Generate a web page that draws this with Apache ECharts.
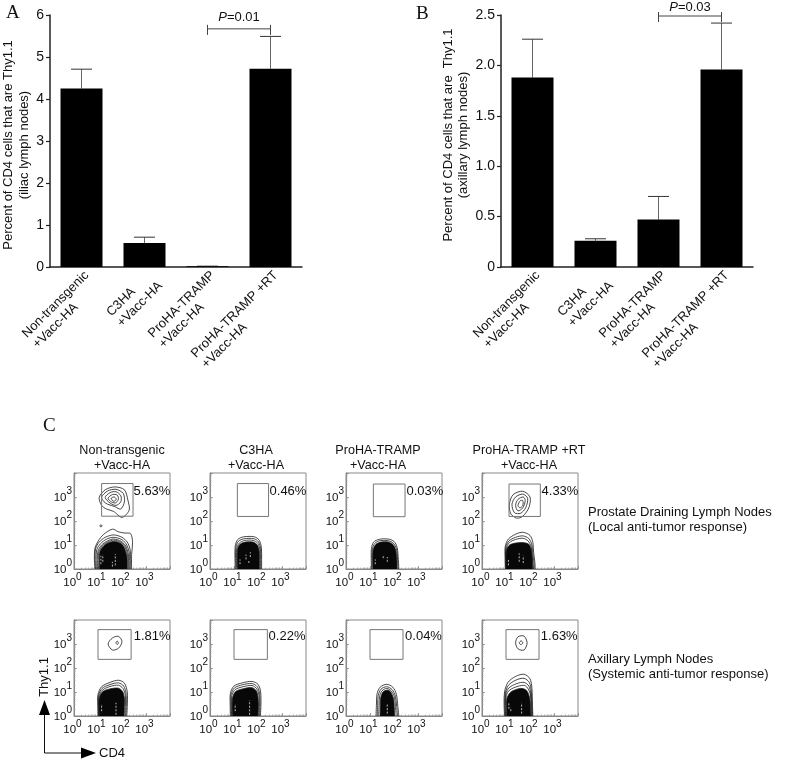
<!DOCTYPE html>
<html><head><meta charset="utf-8">
<style>html,body{margin:0;padding:0;background:#fff}#c{width:800px;height:771px}</style>
<script src="https://cdn.jsdelivr.net/npm/echarts@6/dist/echarts.min.js"></script>
</head><body><div id="c"></div>
<script>
// ---------- Panels A and B ----------
const categories = ['Non-transgenic', 'C3HA', 'ProHA-TRAMP', 'ProHA-TRAMP +RT'];
const secondLine = '+Vacc-HA';
const iliacValues = [4.25, 0.57, 0.02, 4.72];
const iliacUpper = [4.71, 0.71, 0.02, 5.49];
const axillaryValues = [1.88, 0.26, 0.47, 1.96];
const axillaryUpper = [2.26, 0.28, 0.70, 2.42];
const iliacBracket = [2, 3, 5.67, 5.95, '0.01'];
const axillaryBracket = [2, 3, 2.49, 2.58, '0.03'];

// ---------- Panel C: flow cytometry, coordinates are log10(CD4), log10(Thy1.1) ----------
const percents = ['5.63%', '0.46%', '0.03%', '4.33%', '1.81%', '0.22%', '0.04%', '1.63%'];
const percentAt = [[2.46,3.24],[2.46,3.24],[2.5,3.24],[2.46,3.24],[2.47,3.33],[2.42,3.33],[2.44,3.33],[2.43,3.33]];
const gates = [[1.15,2.46,2.2,3.56],[1.14,2.44,2.19,3.56],[1.14,2.46,2.18,3.54],[1.125,2.43,2.19,3.54],
  [1.0,2.38,2.36,3.6],[1.0,2.39,2.36,3.6],[1.0,2.375,2.36,3.6],[1.0,2.375,2.36,3.6]];

const contoursP1 = [
  [.87,0,.85,.4,.87,.85,1,1.15,1.22,1.43,1.6,1.66,1.85,1.55,2.1,1.5,2.36,1.47,2.44,1.1,2.4,.6,2.4,0],
  [.9,0,.88,.4,.9,.85,1.05,1.12,1.3,1.32,1.65,1.42,2,1.32,2.22,1.12,2.34,.8,2.36,.4,2.36,0],
  [.94,0,.92,.4,.95,.8,1.1,1.05,1.35,1.24,1.65,1.32,2,1.22,2.2,1,2.3,.7,2.32,.35,2.32,0],
  [.98,0,.97,.4,1,.75,1.15,1,1.4,1.17,1.65,1.25,1.97,1.15,2.16,.95,2.26,.65,2.28,.3,2.28,0],
  [1.02,0,1.01,.4,1.04,.72,1.18,.97,1.42,1.13,1.66,1.2,1.96,1.11,2.13,.92,2.23,.6,2.25,.28,2.25,0],
  [1.05,2.98,1.3,3.3,1.7,3.42,2.1,3.3,2.25,2.85,2.3,2.45,2,2.15,1.65,2.4,1.35,2.5,1.15,2.65],
  [1.15,3,1.4,3.25,1.75,3.32,2.05,3.15,2.1,2.8,1.95,2.5,1.7,2.6,1.4,2.7,1.25,2.8],
  [1.3,2.98,1.5,3.18,1.75,3.22,1.95,3.05,1.95,2.8,1.75,2.65,1.5,2.75],
  [1.42,2.95,1.6,3.1,1.8,3.08,1.85,2.9,1.72,2.75,1.52,2.82],
  [1.55,2.95,1.68,3,1.76,2.9,1.65,2.82],
  [1.08,1.8,1.12,1.85,1.17,1.8,1.12,1.75]
];
const coreP1 = [1.06,0,1.05,.4,1.08,.72,1.22,.95,1.45,1.1,1.68,1.15,1.95,1.07,2.1,.88,2.2,.55,2.22,.25,2.22,0];
const contoursP2 = [
  [1.05,0,1.04,.5,1.05,.95,1.15,1.22,1.4,1.34,1.85,1.34,2.05,1.2,2.14,.9,2.15,.4,2.15,0],
  [1.08,0,1.07,.5,1.08,.9,1.18,1.15,1.42,1.26,1.83,1.26,2.02,1.13,2.11,.85,2.12,.4,2.12,0],
  [1.11,0,1.1,.5,1.12,.87,1.22,1.08,1.45,1.19,1.8,1.19,1.99,1.07,2.08,.8,2.09,.4,2.09,0]
];
const coreP2 = [1.14,0,1.13,.5,1.15,.85,1.25,1.03,1.47,1.12,1.8,1.12,1.97,1,2.05,.75,2.06,.4,2.06,0];
const contoursP3 = [
  [1.06,0,1.05,.5,1.06,.85,1.15,1.12,1.4,1.24,1.75,1.25,2,1.15,2.13,.9,2.18,.4,2.2,0],
  [1.09,0,1.08,.5,1.1,.82,1.2,1.07,1.42,1.18,1.75,1.18,1.97,1.08,2.1,.85,2.15,.4,2.17,0]
];
const coreP3 = [1.12,0,1.11,.5,1.13,.8,1.24,1.02,1.45,1.12,1.75,1.13,1.95,1.03,2.07,.8,2.12,.4,2.13,0];
const contoursP4 = [
  [.97,0,.96,.5,.97,.95,1.1,1.25,1.4,1.45,1.7,1.53,2,1.4,2.12,1.1,2.15,.7,2.2,.3,2.22,0],
  [.99,0,.98,.5,.99,.9,1.12,1.17,1.4,1.32,1.7,1.38,1.95,1.27,2.08,1,2.12,.6,2.17,.25,2.18,0],
  [1,0,.99,.5,1.01,.85,1.14,1.1,1.4,1.23,1.7,1.28,1.92,1.17,2.05,.92,2.09,.5,2.13,.2,2.15,0],
  [1.14,2.7,1.3,3.1,1.7,3.24,2,3,1.95,2.55,1.7,2.2,1.45,2.12,1.2,2.3],
  [1.25,2.7,1.4,3,1.7,3.12,1.9,2.95,1.82,2.55,1.6,2.32,1.35,2.35],
  [1.4,2.65,1.5,2.9,1.72,3,1.8,2.85,1.7,2.55,1.5,2.42],
  [1.5,2.65,1.6,2.85,1.7,2.85,1.7,2.65,1.58,2.55]
];
const coreP4 = [1,0,1,.5,1.02,.8,1.15,1,1.4,1.08,1.7,1.1,1.95,1.03,2.05,.8,2.1,.4,2.12,0];
const contoursP5 = [
  [1,0,.99,.5,1,.9,1.15,1.22,1.5,1.4,1.85,1.49,2.1,1.37,2.22,1,2.22,.4,2.2,0],
  [1.02,0,1.01,.5,1.02,.85,1.17,1.15,1.5,1.31,1.85,1.38,2.07,1.25,2.17,.92,2.18,.4,2.16,0],
  [1.03,0,1.02,.5,1.04,.82,1.19,1.08,1.5,1.23,1.85,1.28,2.04,1.15,2.14,.85,2.14,.4,2.13,0],
  [1.42,3,1.6,3.25,1.85,3.32,2,3.1,1.85,2.82,1.6,2.75],
  [1.75,3.05,1.8,3.12,1.85,3.05,1.8,2.98]
];
const coreP5 = [1.05,0,1.04,.5,1.06,.78,1.2,1.02,1.5,1.13,1.85,1.16,2.02,1.03,2.1,.75,2.1,.4,2.09,0];
const contoursP6 = [
  [.85,0,.84,.5,.85,.95,1,1.25,1.35,1.38,1.75,1.44,2,1.32,2.11,1,2.12,.4,2.1,0],
  [.88,0,.87,.5,.88,.9,1.02,1.17,1.35,1.3,1.75,1.35,1.97,1.22,2.07,.92,2.08,.4,2.07,0],
  [.9,0,.89,.5,.91,.85,1.05,1.1,1.38,1.22,1.75,1.27,1.95,1.13,2.04,.85,2.05,.4,2.04,0]
];
const coreP6 = [.93,0,.92,.5,.95,.8,1.08,1.03,1.4,1.14,1.75,1.18,1.93,1.05,2,.78,2.02,.4,2,0];
const contoursP7 = [
  [1.25,0,1.27,.5,1.29,.9,1.42,1.2,1.7,1.32,1.95,1.2,2.1,.9,2.16,.4,2.2,0],
  [1.3,0,1.32,.5,1.34,.85,1.46,1.12,1.7,1.22,1.92,1.1,2.06,.82,2.11,.4,2.15,0],
  [1.36,0,1.38,.5,1.4,.82,1.5,1.05,1.7,1.15,1.88,1.05,2.02,.78,2.06,.4,2.09,0]
];
const coreP7 = [1.42,0,1.43,.5,1.45,.78,1.54,1,1.72,1.08,1.86,1,1.98,.72,2.01,.4,2.03,0];
const contoursP8 = [
  [.94,0,.92,.5,.94,1,1.08,1.4,1.4,1.65,1.75,1.74,2,1.55,2.08,1.15,2.1,.5,2.12,0],
  [.96,0,.95,.5,.97,.95,1.1,1.28,1.42,1.5,1.75,1.57,1.97,1.4,2.05,1.05,2.08,.5,2.1,0],
  [.98,0,.97,.5,.99,.9,1.12,1.17,1.45,1.35,1.75,1.4,1.95,1.25,2.03,.95,2.06,.5,2.08,0],
  [1,0,.99,.5,1.01,.85,1.15,1.08,1.5,1.24,1.78,1.27,1.93,1.12,2.02,.87,2.04,.5,2.06,0],
  [1.4,3.05,1.5,3.3,1.75,3.33,1.88,3.05,1.75,2.75,1.5,2.8],
  [1.55,3.05,1.63,3.13,1.7,3.05,1.63,2.97]
];
const coreP8 = [1.03,0,1.02,.5,1.04,.75,1.2,1,1.6,1.15,1.85,1.07,1.98,.78,2.02,.4,2.04,0];
const allContours = [contoursP1,contoursP2,contoursP3,contoursP4,contoursP5,contoursP6,contoursP7,contoursP8];
const allCores = [coreP1,coreP2,coreP3,coreP4,coreP5,coreP6,coreP7,coreP8];
const speckles = [
  [[1.72,.15,1.72,.62],[1.6,.1,1.6,.3],[1.12,.2,1.12,.55],[1.2,.3,1.2,.6]],
  [[1.5,.4,1.5,.6],[1.68,.5,1.68,.7],[1.62,.25,1.62,.38],[1.25,.2,1.25,.4]],
  [[1.55,.45,1.55,.6],[1.72,.3,1.72,.5],[1.22,.2,1.22,.4]],
  [[1.55,.3,1.55,.65],[1.72,.25,1.72,.55],[1.1,.15,1.1,.4]],
  [[1.75,.05,1.75,.55],[1.15,.2,1.15,.5]],
  [[1.65,.05,1.65,.65],[1.05,.2,1.05,.5]],
  [[1.72,.1,1.72,.5]],
  [[1.65,.1,1.65,.55],[1.2,.2,1.2,.35],[1.12,.3,1.12,.55]]
];
const panelTitles = categories;

// ---------- Layout ----------
const flowLefts = [74, 210, 346, 482];
const flowTops = [473, 620];
const flowSize = 96;
const titleCentres = [122, 256, 378, 529];

const serifFont = '"Liberation Serif"';
const sansFont = '"Liberation Sans"';

function catLabel(name) { return '{l|' + name + '}\n{l|' + secondLine + '}'; }

function barX(gridIndex) {
  return { type:'category', gridIndex, data:categories,
    axisLine:{show:true,onZero:false,lineStyle:{color:'#222',width:1.5}},
    axisTick:{show:false},
    axisLabel:{interval:0,rotate:45,margin:1,align:'right',verticalAlign:'top',hideOverlap:false,formatter:catLabel,
      rich:{l:{align:'left',fontFamily:sansFont,fontSize:13,color:'#111',lineHeight:15}}}};
}
function barY(gridIndex,max,interval,name,fmt,gap,pad) {
  return { type:'value', gridIndex, min:0, max, interval, splitLine:{show:false},
    name, nameLocation:'middle', nameGap:gap, nameRotate:90,
    nameTextStyle:{fontFamily:sansFont,fontSize:13,color:'#111',lineHeight:15.5,padding:pad},
    axisLine:{show:true,lineStyle:{color:'#222',width:1.5}},
    axisTick:{show:true,length:4,lineStyle:{color:'#222',width:1.2}},
    axisLabel:{margin:6,fontFamily:sansFont,fontSize:14,color:'#111',formatter:fmt}};
}
function errorRender(params, api) {
  const top = api.coord([api.value(0), api.value(2)]);
  const base = api.coord([api.value(0), api.value(1)]);
  const half = api.size([1,0])[0] / 6;
  return {type:'group',children:[
    {type:'line',shape:{x1:top[0],y1:top[1],x2:base[0],y2:base[1]},style:{stroke:'#666',lineWidth:1}},
    {type:'line',shape:{x1:top[0]-half,y1:top[1],x2:top[0]+half,y2:top[1]},style:{stroke:'#333',lineWidth:1}}
  ]};
}
function bracketRender(params, api) {
  const a = api.coord([api.value(0), api.value(2)]);
  const b = api.coord([api.value(1), api.value(2)]);
  const t = api.coord([api.value(0), api.value(3)]);
  const label = params.seriesIndex === 2 ? iliacBracket[4] : axillaryBracket[4];
  const line = (x1,y1,x2,y2) => ({type:'line',shape:{x1,y1,x2,y2},style:{stroke:'#444',lineWidth:1}});
  return {type:'group',children:[
    line(a[0],a[1],b[0],b[1]), line(a[0],a[1]-4,a[0],a[1]+6), line(b[0],b[1]-4,b[0],b[1]+6),
    {type:'text',x:(a[0]+b[0])/2,y:t[1],style:{text:'{i|P}{n|=' + label + '}',align:'center',verticalAlign:'middle',
      rich:{i:{fontStyle:'italic',fontFamily:sansFont,fontSize:13,fill:'#111'},n:{fontFamily:sansFont,fontSize:13,fill:'#111'}}}}
  ]};
}
function flowRender(p) {
  return function(params, api) {
    const c = (x,y) => api.coord([Math.pow(10,x), Math.pow(10,y)]);
    const pts = flat => { const o=[]; for(let i=0;i<flat.length;i+=2) o.push(c(flat[i],flat[i+1])); return o; };
    const children = [];
    allContours[p].forEach(f => children.push({
      type: f[1]===0 ? 'polyline' : 'polygon',
      shape:{points:pts(f),smooth:0.3},style:{fill:'none',stroke:'#1a1a1a',lineWidth:.8}}));
    children.push({type:'polyline',shape:{points:pts(allCores[p]),smooth:0.3},style:{fill:'#080808',stroke:'#222',lineWidth:.8}});
    speckles[p].forEach(s => { const a=c(s[0],s[1]), b=c(s[2],s[3]);
      children.push({type:'line',shape:{x1:a[0],y1:a[1],x2:b[0],y2:b[1]},style:{stroke:'#ccc',lineWidth:.9,lineDash:[2,1.5]}}); });
    const g = gates[p], tl = c(g[0],g[3]), br = c(g[1],g[2]);
    children.push({type:'rect',shape:{x:tl[0],y:tl[1],width:br[0]-tl[0],height:br[1]-tl[1]},style:{fill:'none',stroke:'#777',lineWidth:1}});
    const pa = c(percentAt[p][0],percentAt[p][1]);
    children.push({type:'text',x:pa[0]+.5,y:pa[1],style:{text:percents[p],align:'left',verticalAlign:'middle',fontFamily:sansFont,fontSize:13,fill:'#111'}});
    return {type:'group',children};
  };
}

function logFormatter(v) { const e=Math.round(Math.log10(v)); return e>3 ? '' : '{b|10}{s|'+e+'}'; }
const logRich = {b:{fontSize:11.5,lineHeight:17,verticalAlign:'bottom',fontFamily:sansFont,color:'#111'},
                 s:{fontSize:10,lineHeight:17,verticalAlign:'top',fontFamily:sansFont,color:'#111'}};
function flowAxis(gridIndex, dim) {
  return {type:'log',logBase:10,gridIndex,min:1,max:10000,splitLine:{show:false},
    axisLine:{show:true,lineStyle:{color:'#888',width:1}},
    axisTick:{show:true,inside:true,length:3,lineStyle:{color:'#888',width:.8}},
    minorTick:{show:true,splitNumber:9,length:1.5,lineStyle:{color:'#999',width:.7}},
    axisLabel:{formatter:logFormatter,rich:logRich,margin:dim==='x'?3:2,padding:dim==='x'?[0,3,0,0]:[0,0,4,0]}};
}

const grids = [
  {left:50,top:15,width:252,height:252,outerBoundsMode:'none'},
  {left:501,top:15,width:252,height:252,outerBoundsMode:'none'}
];
const xAxes = [barX(0),barX(1)];
const yAxes = [
  barY(0,6,1,'Percent of CD4 cells that are Thy1.1\n(iliac lymph nodes)',v=>String(v),18,[0,8,0,0]),
  barY(1,2.5,.5,'Percent of CD4 cells that are  Thy1.1\n(axillary lymph nodes)',v=>v===0?'0':v.toFixed(1),29,[0,0,0,12])
];
const series = [
  {type:'bar',xAxisIndex:0,yAxisIndex:0,data:iliacValues,barWidth:42,itemStyle:{color:'#000'},silent:true},
  {type:'bar',xAxisIndex:1,yAxisIndex:1,data:axillaryValues,barWidth:42,itemStyle:{color:'#000'},silent:true},
  {type:'custom',xAxisIndex:0,yAxisIndex:0,data:[iliacBracket.slice(0,4)],renderItem:bracketRender,silent:true},
  {type:'custom',xAxisIndex:1,yAxisIndex:1,data:[axillaryBracket.slice(0,4)],renderItem:bracketRender,silent:true},
  {type:'custom',xAxisIndex:0,yAxisIndex:0,data:iliacValues.map((v,i)=>[i,v,iliacUpper[i]]),encode:{x:0,y:[1,2]},renderItem:errorRender,silent:true},
  {type:'custom',xAxisIndex:1,yAxisIndex:1,data:axillaryValues.map((v,i)=>[i,v,axillaryUpper[i]]),encode:{x:0,y:[1,2]},renderItem:errorRender,silent:true}
];
flowTops.forEach((top,r) => flowLefts.forEach((left,c) => {
  const g = grids.length, p = r*4 + c;
  grids.push({left,top,width:flowSize,height:flowSize,show:true,borderColor:'#888',borderWidth:1,backgroundColor:'transparent',outerBoundsMode:'none'});
  xAxes.push(flowAxis(g,'x'));
  yAxes.push(flowAxis(g,'y'));
  series.push({type:'custom',xAxisIndex:g,yAxisIndex:g,data:[[1,1]],renderItem:flowRender(p),silent:true,clip:false});
}));

const titles = panelTitles.map((t,i) => ({text:t+'\n'+secondLine,left:titleCentres[i],top:443,textAlign:'center',padding:0,
  textStyle:{fontFamily:sansFont,fontSize:12.6,fontWeight:'normal',color:'#111',lineHeight:15}}));

const text = (x,y,t,o) => ({type:'text',x,y,style:Object.assign({text:t,fontFamily:sansFont,fontSize:13,fill:'#111',verticalAlign:'middle'},o||{})});
const graphic = [
  text(6,13,'A',{fontFamily:serifFont,fontSize:19}),
  text(416,14,'B',{fontFamily:serifFont,fontSize:19}),
  text(43,426,'C',{fontFamily:serifFont,fontSize:19}),
  text(588,520,'Prostate Draining Lymph Nodes\n(Local anti-tumor response)',{lineHeight:15}),
  text(588,667,'Axillary Lymph Nodes\n(Systemic anti-tumor response)',{lineHeight:15}),
  {type:'text',x:44,y:677,rotation:Math.PI/2,style:{text:'Thy1.1',fontFamily:sansFont,fontSize:13,fill:'#111',align:'center',verticalAlign:'middle'}},
  text(99,753,'CD4'),
  {type:'polyline',shape:{points:[[44.5,712],[44.5,753],[84,753]]},style:{stroke:'#111',fill:'none',lineWidth:1}},
  {type:'polygon',shape:{points:[[44.5,700],[39,715],[50,715]]},style:{fill:'#000'}},
  {type:'polygon',shape:{points:[[96,753],[81,747.5],[81,758.5]]},style:{fill:'#000'}}
];

const chart = echarts.init(document.getElementById('c'), null, {renderer:'canvas'});
chart.setOption({animation:false,backgroundColor:'#fff',title:titles,grid:grids,xAxis:xAxes,yAxis:yAxes,series,graphic:{elements:graphic}});
</script></body></html>
